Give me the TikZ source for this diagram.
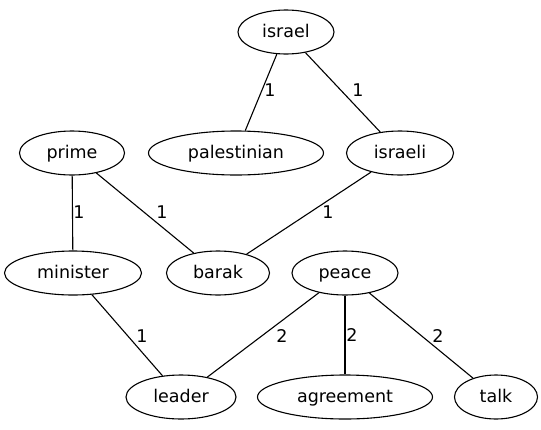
\documentclass[tikz,border=0pt]{standalone}
\usepackage{fontspec}
\setmainfont{DejaVu Sans}
\usetikzlibrary{shapes.geometric}
\begin{document}
\begin{tikzpicture}[x=1pt,y=-1pt,
  vert/.style={draw,ellipse,inner sep=0pt,minimum height=44pt,text height=13pt,text depth=3pt,line width=1.1pt,font=\fontsize{17.5}{20}\selectfont},
  elab/.style={inner sep=0pt,font=\fontsize{17.5}{20}\selectfont},
  edge/.style={line width=1.1pt}]
\useasboundingbox (0,0) rectangle (541,429);
\node[vert,minimum width=96pt] (israel) at (286,32) {israel};
\node[vert,minimum width=175pt] (palestinian) at (236,153) {palestinian};
\node[vert,minimum width=107pt] (israeli) at (400,153) {israeli};
\node[vert,minimum width=105pt] (prime) at (72,153) {prime};
\node[vert,minimum width=137pt] (minister) at (73,273) {minister};
\node[vert,minimum width=103pt] (barak) at (218,273) {barak};
\node[vert,minimum width=106pt] (peace) at (345,273) {peace};
\node[vert,minimum width=110pt] (leader) at (181,397) {leader};
\node[vert,minimum width=175pt] (agreement) at (345,397) {agreement};
\node[vert,minimum width=83pt] (talk) at (496,397) {talk};
\draw[edge] (israel) -- (palestinian);
\draw[edge] (israel) -- (israeli);
\draw[edge] (prime) -- (minister);
\draw[edge] (prime) -- (barak);
\draw[edge] (israeli) -- (barak);
\draw[edge] (minister) -- (leader);
\draw[edge] (peace) -- (leader);
\draw[edge] (peace) -- (agreement);
\draw[edge] (peace) -- (talk);
\node[elab] (l1) at (270,90) {1};
\node[elab] (l2) at (358,90) {1};
\node[elab] (l3) at (79,212) {1};
\node[elab] (l4) at (162,212) {1};
\node[elab] (l5) at (328,212) {1};
\node[elab] (l6) at (142,336) {1};
\node[elab] (l7) at (282,336) {2};
\node[elab] (l8) at (352,335) {2};
\node[elab] (l9) at (438,336) {2};
\end{tikzpicture}
\end{document}
